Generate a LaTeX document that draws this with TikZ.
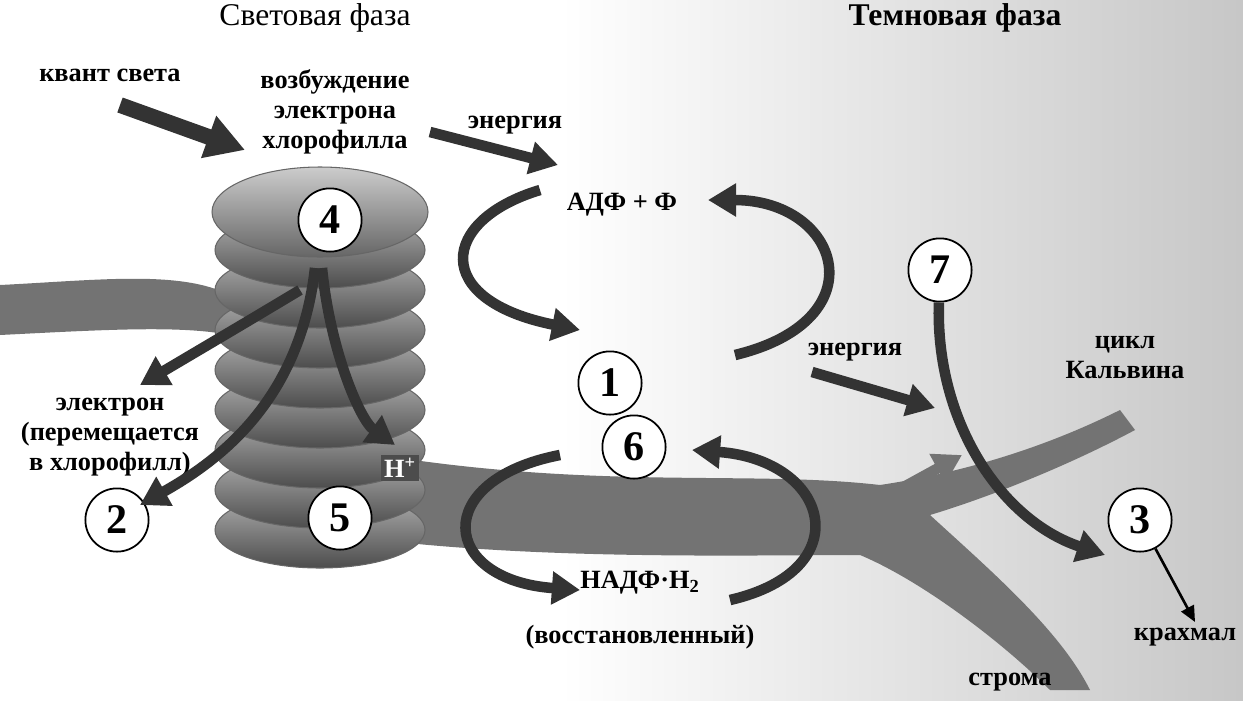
\documentclass[tikz,border=0pt]{standalone}
\usepackage{fontspec}
\setmainfont{Liberation Serif}
\usetikzlibrary{arrows.meta}
\begin{document}
\begin{tikzpicture}[x=0.02cm,y=-0.02cm,
  lbl/.style={font=\bfseries\fontsize{15}{17}\selectfont, align=center},
  ttl/.style={font=\fontsize{18}{20}\selectfont},
  num/.style={circle,draw=black,line width=1pt,fill=white,minimum size=36pt,inner sep=0pt,font=\bfseries\fontsize{24}{26}\selectfont},
  big/.style={line width=9pt,draw=black!80,-{Triangle[width=24pt,length=22pt]}},
  mid/.style={line width=6pt,draw=black!80,-{Triangle[width=18pt,length=16pt]}},
  disc/.style={draw=black!60,line width=0.6pt,top color=black!30,bottom color=black!70}]
\useasboundingbox (0,0) rectangle (1243,700);
% dark phase background
\shade[left color=white,right color=black!22] (560,0) rectangle (1243,700);
% stroma tubes
\fill[black!55] (0,285) .. controls (100,280) and (180,270) .. (230,295) -- (230,335) .. controls (180,325) and (100,330) .. (0,335) -- cycle;
\fill[black!55] (380,455) .. controls (600,490) and (750,470) .. (880,485)
  .. controls (980,470) and (1060,440) .. (1120,410) -- (1135,430)
  .. controls (1060,470) and (980,500) .. (930,515)
  .. controls (990,570) and (1060,630) .. (1090,690) -- (1050,690)
  .. controls (1000,640) and (920,580) .. (860,555)
  .. controls (750,555) and (550,560) .. (380,540) -- cycle;
% grana stack
\foreach \y in {530,490,450,410,370,330,290,250}{
  \shade[disc] (320,\y) ellipse (105 and 38);
}
\shade[disc,top color=black!20,bottom color=black!60] (320,212) ellipse (108 and 45);
% nodes
\node[ttl] (t1) at (315,18) {Световая фаза};
\node[ttl,font=\fontsize{18}{20}\selectfont\bfseries] (t2) at (955,18) {Темновая фаза};
\node[lbl] (kv) at (110,75) {квант света};
\node[lbl] (vozb) at (335,112) {возбуждение\\электрона\\хлорофилла};
\node[lbl] (en1) at (515,125) {энергия};
\node[lbl] (adf) at (622,205) {АДФ + Ф};
\node[lbl] (en2) at (855,352) {энергия};
\node[lbl] (calv) at (1125,358) {цикл\\Кальвина};
\node[lbl] (el) at (110,437) {электрон\\(перемещается\\в хлорофилл)};
\node[lbl] (nadf) at (640,583) {НАДФ·Н\textsubscript{2}};
\node[lbl] (vos) at (640,637) {(восстановленный)};
\node[lbl] (str) at (1010,682) {строма};
\node[lbl] (kr) at (1185,637) {крахмал};
\node[num] (n4) at (330,220) {4};
\node[num] (n1) at (610,383) {1};
\node[num] (n6) at (634,447) {6};
\node[num] (n2) at (117,520) {2};
\node[num] (n5) at (340,518) {5};
\node[num] (n7) at (940,270) {7};
\node[num] (n3) at (1140,520) {3};
% arrows
\coordinate (a1) at (120,105); \coordinate (a1e) at (245,150);
\draw[big] (a1) -- (a1e);
\coordinate (a2) at (430,132); \coordinate (a2e) at (558,165);
\draw[mid] (a2) -- (a2e);
\coordinate (c1) at (540,190); \coordinate (c1e) at (580,330);
\draw[mid] (c1) .. controls (440,220) and (430,300) .. (c1e);
\coordinate (c2) at (735,355); \coordinate (c2e) at (708,200);
\draw[mid] (c2) .. controls (880,320) and (840,200) .. (c2e);
\coordinate (d1) at (300,290); \coordinate (d1e) at (140,385);
\draw[mid] (d1) .. controls (250,320) .. (d1e);
\coordinate (d2) at (315,268); \coordinate (d2e) at (140,505);
\draw[mid] (d2) .. controls (300,400) and (220,460) .. (d2e);
\coordinate (d3) at (322,268); \coordinate (d3e) at (395,445);
\draw[mid] (d3) .. controls (330,350) and (360,420) .. (d3e);
\node[lbl,text=white,fill=black!70,inner sep=2pt] (hp) at (400,468) {Н\textsuperscript{+}};
\coordinate (e1) at (812,372); \coordinate (e1e) at (935,408);
\draw[mid] (e1) -- (e1e);
\coordinate (f1) at (560,455); \coordinate (f1e) at (580,590);
\draw[mid] (f1) .. controls (430,480) and (440,580) .. (f1e);
\coordinate (f2) at (730,600); \coordinate (f2e) at (692,450);
\draw[mid] (f2) .. controls (860,570) and (830,460) .. (f2e);
\coordinate (g1) at (880,500); \coordinate (g1e) at (962,455);
\draw[mid,draw=black!55] (g1) -- (g1e);
\draw[mid] (n7) .. controls (935,420) and (1000,520) .. (1105,555);
\draw[line width=1.5pt,-{Triangle[width=8pt,length=9pt]}] (n3) -- (1195,622);
\end{tikzpicture}
\end{document}
